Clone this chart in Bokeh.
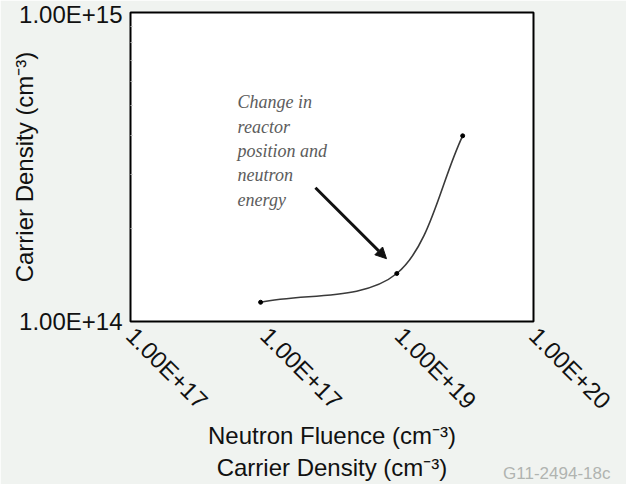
import math
from bokeh.plotting import figure
from bokeh.models import FixedTicker, Title, Arrow, NormalHead
from bokeh.core.properties import value
from bokeh.embed import file_html
from bokeh.resources import INLINE

# ---- data ----
fluence = [9.3e17, 9.6e18, 2.97e19]          # neutron fluence, cm^-3
density = [1.154e14, 1.43e14, 3.99e14]       # carrier density, cm^-3

x_ticks = [1e17, 1e18, 1e19, 1e20]
x_tick_labels = ["1.00E+17", "1.00E+17", "1.00E+19", "1.00E+20"]
y_ticks = [1e14, 1e15]
y_tick_labels = ["1.00E+14", "1.00E+15"]
y_minor = [2e14, 3e14, 4e14, 5e14, 6e14, 7e14, 8e14, 9e14]

note_text = "Change in\nreactor\nposition and\nneutron\nenergy"
note_pos = (6.27e17, 5.52e14)
arrow_from = (2.38e18, 2.71e14)
arrow_to = (8.05e18, 1.597e14)

x_title = "Neutron Fluence (cm\u207b\u00b3)\nCarrier Density (cm\u207b\u00b3)"
y_title = "Carrier Density (cm\u207b\u00b3)"
code_text = "G11-2494-18c"

FONT = "Liberation Sans"

p = figure(width=626, height=484, x_axis_type="log", y_axis_type="log",
           x_range=(1e17, 1e20), y_range=(1e14, 1e15),
           output_backend="svg", toolbar_location=None,
           min_border_left=130, min_border_right=93,
           min_border_top=12, min_border_bottom=162)

p.background_fill_color = "white"
p.border_fill_color = "#f0f3f0"
p.outline_line_color = "black"
p.outline_line_width = 2
p.grid.visible = False

# x axis
xa = p.xaxis[0]
xa.ticker = FixedTicker(ticks=x_ticks, minor_ticks=[])
xa.major_label_overrides = {t: l for t, l in zip(x_ticks, x_tick_labels)}
xa.major_label_orientation = -math.pi / 4
xa.major_label_text_font = FONT
xa.major_label_text_font_size = "24px"
xa.major_label_text_color = "#111111"
xa.major_label_standoff = 10
xa.major_tick_in = 0
xa.major_tick_out = 0
xa.minor_tick_in = 0
xa.minor_tick_out = 0
xa.axis_line_color = None
xa.axis_label = x_title
xa.axis_label_text_font = FONT
xa.axis_label_text_font_size = "24px"
xa.axis_label_text_font_style = "normal"
xa.axis_label_text_color = "#111111"
xa.axis_label_standoff = -5

# y axis
ya = p.yaxis[0]
ya.ticker = FixedTicker(ticks=y_ticks, minor_ticks=y_minor)
ya.major_label_overrides = {t: l for t, l in zip(y_ticks, y_tick_labels)}
ya.major_label_text_font = FONT
ya.major_label_text_font_size = "24px"
ya.major_label_text_color = "#111111"
ya.major_label_standoff = 8
ya.major_tick_in = 0
ya.major_tick_out = 0
ya.minor_tick_in = 2
ya.minor_tick_out = 0
ya.minor_tick_line_color = "#bbbbbb"
ya.axis_line_color = None
ya.axis_label = y_title
ya.axis_label_text_font = FONT
ya.axis_label_text_font_size = "24px"
ya.axis_label_text_font_style = "normal"
ya.axis_label_text_color = "#111111"
ya.axis_label_standoff = -22

# smooth curve through the points (Catmull-Rom in log space -> cubic beziers)
lx = [math.log10(v) for v in fluence]
ly = [math.log10(v) for v in density]
n = len(lx)
tx, ty = [], []
for i in range(n):
    if i == 0:
        tx.append(lx[1] - lx[0]); ty.append(ly[1] - ly[0])
    elif i == n - 1:
        tx.append(lx[-1] - lx[-2]); ty.append(ly[-1] - ly[-2])
    else:
        tx.append((lx[i + 1] - lx[i - 1]) / 2); ty.append((ly[i + 1] - ly[i - 1]) / 2)
bz = dict(x0=[], y0=[], x1=[], y1=[], cx0=[], cy0=[], cx1=[], cy1=[])
for i in range(n - 1):
    bz["x0"].append(fluence[i]); bz["y0"].append(density[i])
    bz["x1"].append(fluence[i + 1]); bz["y1"].append(density[i + 1])
    bz["cx0"].append(10 ** (lx[i] + tx[i] / 3)); bz["cy0"].append(10 ** (ly[i] + ty[i] / 3))
    bz["cx1"].append(10 ** (lx[i + 1] - tx[i + 1] / 3)); bz["cy1"].append(10 ** (ly[i + 1] - ty[i + 1] / 3))
p.bezier(line_color="#3a3a3a", line_width=1.6, **bz)
p.scatter(fluence, density, size=4, color="black")

# annotation
p.text(x=[note_pos[0]], y=[note_pos[1]], text=[note_text],
       text_font=value("Liberation Serif"), text_font_style="italic",
       text_font_size="18px", text_color="#5c5c5c",
       text_align="left", text_baseline="top", text_line_height=1.22)
p.add_layout(Arrow(end=NormalHead(size=11, fill_color="#111111", line_color="#111111"),
                   x_start=arrow_from[0], y_start=arrow_from[1],
                   x_end=arrow_to[0], y_end=arrow_to[1],
                   line_color="#111111", line_width=3))

# figure code, bottom right
p.add_layout(Title(text=code_text, align="right", vertical_align="top",
                   offset=-77, standoff=-42,
                   text_font=FONT, text_font_size="17px", text_font_style="normal",
                   text_color="#b0b4b0"), "below")

open("out.html", "w").write(file_html(p, INLINE))
